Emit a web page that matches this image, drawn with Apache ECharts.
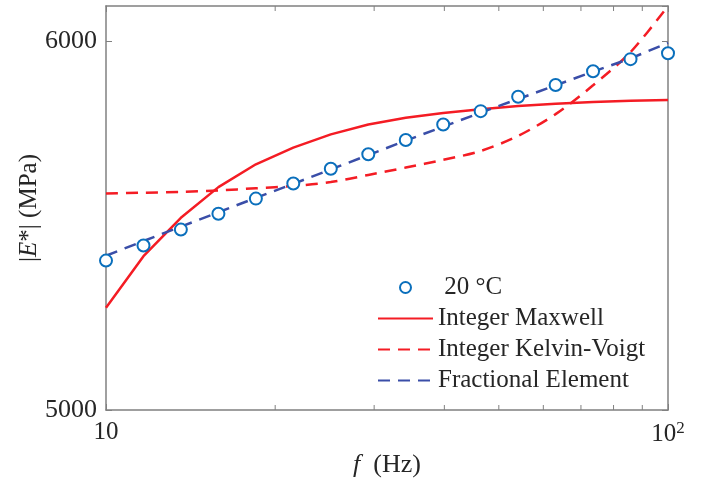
<!DOCTYPE html>
<html>
<head>
<meta charset="utf-8">
<title>|E*| vs f</title>
<script src="https://cdn.jsdelivr.net/npm/echarts@6/dist/echarts.min.js"></script>
<style>
  html, body { margin: 0; padding: 0; background: #fff; }
  #chart { width: 702px; height: 489px; }
</style>
</head>
<body>
<div id="chart"></div>
<script>
// frequencies (Hz) of the measured points / model curves
const freq = [10, 11.66, 13.59, 15.85, 18.48, 21.54, 25.12, 29.29, 34.15, 39.81, 46.42, 54.12, 63.10, 73.56, 85.77, 100]
// |E*| (MPa)
const measured = [5405, 5446, 5489, 5532, 5573, 5614, 5654, 5693, 5732, 5774, 5810, 5849, 5881, 5918, 5951, 5967]
const maxwell = [5277, 5417, 5521, 5604, 5666, 5711, 5747, 5774, 5792, 5805, 5815, 5824, 5830, 5835, 5838, 5840]
const kelvinVoigt = [5587, 5589, 5591, 5595, 5601, 5607, 5618, 5637, 5657, 5678, 5702, 5743, 5802, 5880, 5970, 6095]
const fractional = [5418, 5458, 5497, 5536, 5575, 5613, 5652, 5691, 5730, 5768, 5806, 5843, 5880, 5917, 5953, 5995]

const seriesNames = [' 20 °C', 'Integer Maxwell', 'Integer Kelvin-Voigt', 'Fractional Element']
const yTicks = [5000, 6000]
const minorTicks = [20, 30, 40, 50, 60, 70, 80, 90]

const yMin = 5000
const yMax = 6095
const font = 'Liberation Serif'
const axisColor = '#808080'
const textColor = '#262626'
const red = '#f41c24'
const blue = '#3a4ea8'
const marker = '#0a6fbc'

const pair = (ys) => freq.map((f, i) => [f, ys[i]])

const chart = echarts.init(document.getElementById('chart'))

const option = {
    animation: false,
    grid: { left: 106, right: 34, top: 6, bottom: 79 },
    legend: {
        data: [
            { name: seriesNames[0] },
            { name: seriesNames[1], itemStyle: { opacity: 0 } },
            { name: seriesNames[2], itemStyle: { opacity: 0 } },
            { name: seriesNames[3], itemStyle: { opacity: 0 } }
        ],
        orient: 'vertical',
        left: 377,
        top: 275,
        padding: 0,
        itemWidth: 55,
        itemHeight: 11,
        itemGap: 6,
        textStyle: { fontFamily: font, fontSize: 25, color: textColor, lineHeight: 25 }
    },
    xAxis: [
        {
            type: 'log',
            logBase: 10,
            min: 10,
            max: 100,
            name: '{i|f}  (Hz)',
            nameLocation: 'middle',
            nameGap: 42,
            nameMoveOverlap: false,
            nameTextStyle: {
                fontFamily: font, fontSize: 26, color: textColor,
                rich: { i: { fontFamily: font, fontSize: 26, fontStyle: 'italic', color: textColor } }
            },
            axisLine: { lineStyle: { color: axisColor, width: 1.5 } },
            axisTick: { inside: true, length: 6, lineStyle: { color: axisColor } },
            splitLine: { show: false },
            axisLabel: {
                fontFamily: font, fontSize: 25, color: textColor, margin: 10,
                formatter: (v) => Math.round(v) === 100 ? '10{s|2}' : String(Math.round(v)),
                rich: { s: { fontFamily: font, fontSize: 17, color: textColor, verticalAlign: 'top', padding: [0, 0, 12, 0] } }
            }
        },
        {
            type: 'log',
            logBase: 10,
            min: 10,
            max: 100,
            position: 'top',
            axisLine: { lineStyle: { color: axisColor, width: 1.5 } },
            axisTick: { inside: true, length: 6, lineStyle: { color: axisColor } },
            axisLabel: { show: false },
            splitLine: { show: false }
        }
    ],
    yAxis: [
        {
            type: 'value',
            min: yMin,
            max: yMax,
            interval: 1000,
            name: '|{i|E}*| (MPa)',
            nameLocation: 'middle',
            nameGap: 64,
            nameMoveOverlap: false,
            nameTextStyle: {
                fontFamily: font, fontSize: 25, color: textColor,
                rich: { i: { fontFamily: font, fontSize: 25, fontStyle: 'italic', color: textColor } }
            },
            axisLine: { show: true, lineStyle: { color: axisColor, width: 1.5 } },
            axisTick: { inside: true, length: 6, lineStyle: { color: axisColor } },
            splitLine: { show: false },
            axisLabel: {
                fontFamily: font, fontSize: 26, color: textColor, margin: 9,
                showMaxLabel: false,
                formatter: (v) => yTicks.includes(v) ? String(v) : ''
            }
        },
        {
            type: 'value',
            min: yMin,
            max: yMax,
            interval: 1000,
            position: 'right',
            axisLine: { show: true, lineStyle: { color: axisColor, width: 1.5 } },
            axisTick: { inside: true, length: 6, lineStyle: { color: axisColor } },
            axisLabel: { show: false },
            splitLine: { show: false }
        }
    ],
    series: [
        {
            // minor ticks of the log axis, bottom and top
            type: 'custom',
            silent: true,
            clip: false,
            data: minorTicks.map(v => [v, yMin]),
            renderItem: (params, api) => {
                const b = api.coord([api.value(0), yMin])
                const t = api.coord([api.value(0), yMax])
                const st = { stroke: axisColor, lineWidth: 1 }
                return {
                    type: 'group',
                    children: [
                        { type: 'line', shape: { x1: b[0], y1: b[1], x2: b[0], y2: b[1] - 5 }, style: st },
                        { type: 'line', shape: { x1: t[0], y1: t[1], x2: t[0], y2: t[1] + 5 }, style: st }
                    ]
                }
            }
        },
        {
            name: seriesNames[1],
            type: 'line',
            data: pair(maxwell),
            symbol: 'none',
            lineStyle: { color: red, width: 2.5 },
            itemStyle: { color: red },
            z: 3
        },
        {
            name: seriesNames[2],
            type: 'line',
            data: pair(kelvinVoigt),
            symbol: 'none',
            smooth: 0.3,
            lineStyle: { color: red, width: 2.5, type: [12, 8] },
            itemStyle: { color: red },
            z: 3
        },
        {
            name: seriesNames[3],
            type: 'line',
            data: pair(fractional),
            symbol: 'none',
            lineStyle: { color: blue, width: 2.5, type: [12, 8] },
            itemStyle: { color: blue },
            z: 4
        },
        {
            name: seriesNames[0],
            type: 'scatter',
            data: pair(measured),
            symbol: 'emptyCircle',
            symbolSize: 12,
            itemStyle: { color: marker, borderColor: marker, borderWidth: 3, opacity: 1 },
            z: 5
        }
    ]
}

chart.setOption(option)
</script>
</body>
</html>
